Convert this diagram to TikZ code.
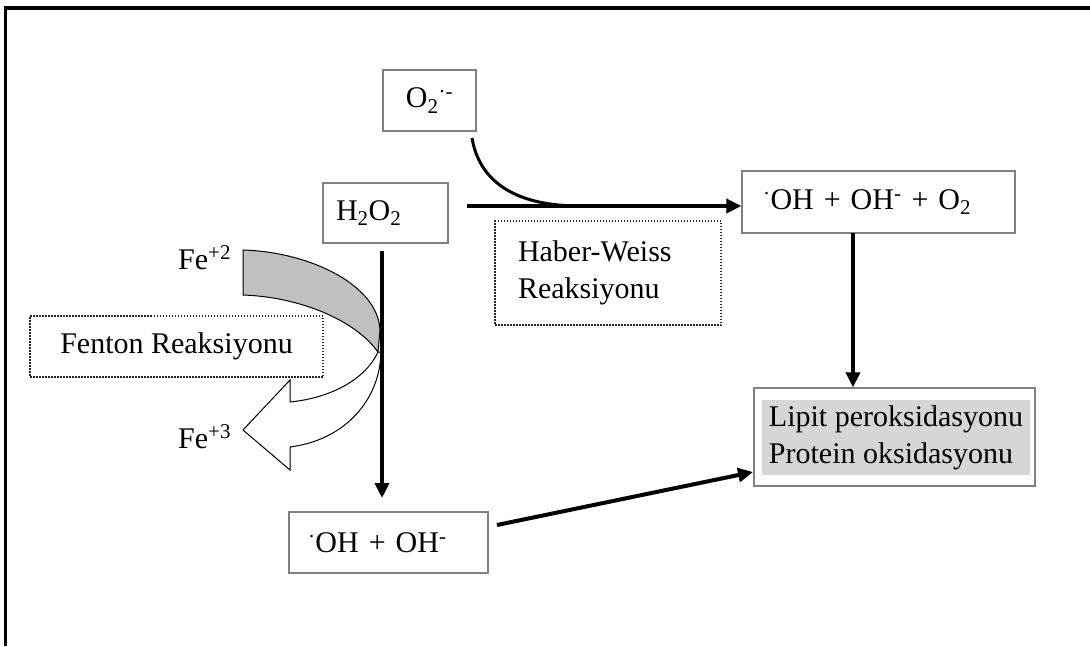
\documentclass[tikz,border=0pt]{standalone}
\usepackage{fontspec}
\setmainfont{Liberation Serif}
\usetikzlibrary{arrows.meta}
\definecolor{boxgray}{RGB}{128,128,128}
\definecolor{bandgray}{RGB}{192,192,192}
\definecolor{hlgray}{RGB}{214,214,214}
\begin{document}
\begin{tikzpicture}[x=1pt,y=-1pt,
  txt/.style={font=\fontsize{30}{37}\selectfont},
  box/.style={txt, draw=boxgray, line width=1.3pt, inner ysep=0pt},
  dotbox/.style={txt, draw=black!85, line width=1.5pt, dash pattern=on 1.5pt off 1.5pt, inner ysep=0pt},
  arr/.style={line width=4pt, -{Triangle[length=15pt,width=14pt]}},
  lbl/.style={txt, inner sep=0pt}]
\useasboundingbox (0,0) rectangle (1090,646);
% frame
\draw[line width=4pt] (4,8) -- (1090,8);
\draw[line width=3pt] (5.5,6) -- (5.5,646);

% curved Fenton arrow (back face and front face)
\filldraw[fill=bandgray, draw=black, line width=1pt]
  (243,250) .. controls (310,252) and (378,285) .. (380,330) -- (378,352)
  .. controls (355,320) and (300,297) .. (243,295) -- cycle;
\filldraw[fill=white, draw=black, line width=1pt]
  (378,352) .. controls (365,380) and (330,398) .. (290,402) -- (290,380)
  -- (243,430) -- (290,470) -- (290,447)
  .. controls (345,440) and (380,400) .. (381,352) -- cycle;

% boxes
\node[box, minimum width=93pt, minimum height=61pt, inner xsep=0pt] (o2) at (429.5,100.5)
  {O\textsubscript{2}\textsuperscript{·-}};
\node[box, minimum width=125pt, minimum height=60pt, text width=99pt, inner xsep=13pt, align=left] (h2o2) at (385.5,213)
  {H\textsubscript{2}O\textsubscript{2}};
\node[box, minimum width=273pt, minimum height=62pt, text width=231pt, inner xsep=21pt, align=left] (ohoo) at (878.5,202)
  {\textsuperscript{·}OH + OH\textsuperscript{-} + O\textsubscript{2}};
\node[dotbox, minimum width=226pt, minimum height=104pt, text width=180pt, inner xsep=23pt, align=left] (haber) at (608,273)
  {Haber-Weiss\\Reaksiyonu};
\node[dotbox, fill=white, minimum width=293pt, minimum height=61pt, inner xsep=0pt] (fenton) at (176.5,346.5)
  {Fenton Reaksiyonu};
\node[box, minimum width=199pt, minimum height=61pt, text width=161pt, inner xsep=19pt, align=left] (ohoh) at (388.5,542.5)
  {\textsuperscript{·}OH + OH\textsuperscript{-}};
\node[box, minimum width=281pt, minimum height=98pt] (lipit) at (894.5,437) {};
\node[txt, fill=hlgray, minimum width=268pt, minimum height=75pt, inner xsep=1pt, inner ysep=0pt, align=left] (lipittext) at (896,437.5)
  {Lipit peroksidasyonu\\Protein oksidasyonu};

% iron labels
\node[lbl, anchor=base west] (fe2) at (178,269) {Fe\textsuperscript{+2}};
\node[lbl, anchor=base west] (fe3) at (178,448) {Fe\textsuperscript{+3}};

% connectors
\coordinate (o2c) at (472,138);
\coordinate (hs) at (467,206);
\draw[line width=3pt] (o2c) .. controls (480,185) and (520,206) .. (580,206);
\draw[arr] (hs) -- (hs -| ohoo.west);

\coordinate (vr) at (853,233);
\draw[arr] (vr) -- (vr |- lipit.north);

\coordinate (fs) at (382,251);
\coordinate (fe) at (382,498);
\draw[arr] (fs) -- (fe);

\coordinate (ds) at (497,525);
\coordinate (de) at (753,472);
\draw[arr] (ds) -- (de);
\end{tikzpicture}
\end{document}
